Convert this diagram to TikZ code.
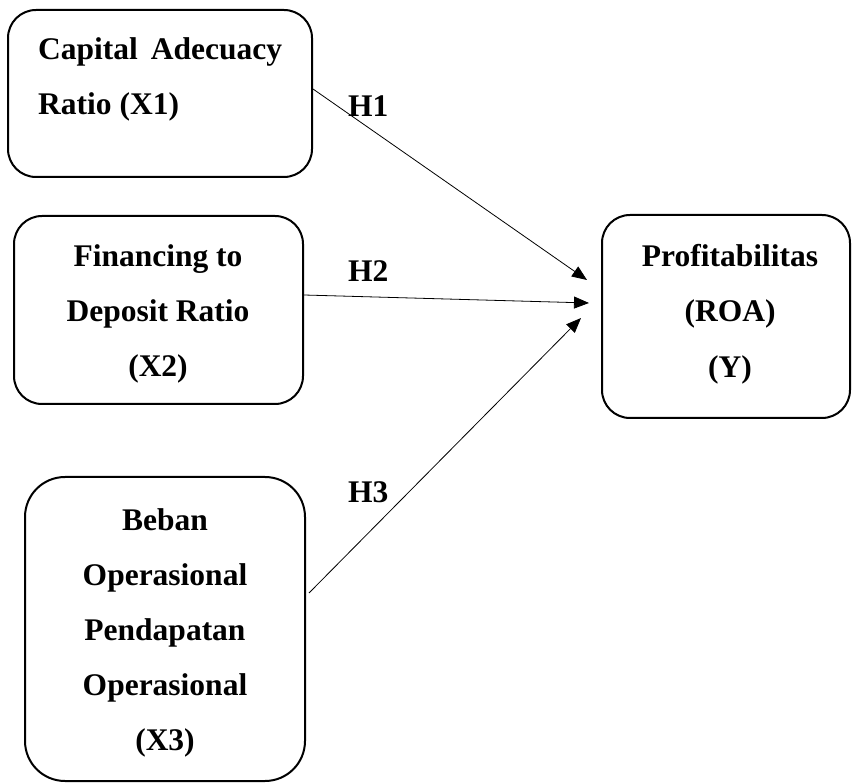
\documentclass[tikz,border=0pt]{standalone}
\usepackage{fontspec}
\setmainfont{Liberation Serif}
\usetikzlibrary{arrows.meta}
\begin{document}
\begin{tikzpicture}[x=1pt,y=-1pt,
  box/.style={draw=black,line width=2pt,rounded corners=#1,inner sep=0pt},
  box/.default=28pt,
  txt/.style={inner sep=0pt,anchor=base,font=\bfseries\fontsize{31.5}{55}\selectfont},
  txtl/.style={txt,anchor=base west},
  conn/.style={line width=0.8pt,-{Triangle[length=15pt,width=12pt]}}]
\useasboundingbox (0,0) rectangle (852,783);
% boxes
\node[box,minimum width=304pt,minimum height=167pt] (x1) at (160,93.5) {};
\node[box,minimum width=289pt,minimum height=188pt] (x2) at (158.5,310) {};
\node[box=40pt,minimum width=280pt,minimum height=304pt] (x3) at (165,629) {};
\node[box,minimum width=248pt,minimum height=203pt] (y) at (726,316.5) {};
% texts
\node[txtl] (a1) at (38,60) {\makebox[244pt][s]{Capital Adecuacy}};
\node[txtl] (a2) at (38,115) {Ratio (X1)};
\node[txt] (b1) at (158,267) {Financing to};
\node[txt] (b2) at (158,322) {Deposit Ratio};
\node[txt] (b3) at (158,377) {(X2)};
\node[txt] (c1) at (165,530) {Beban};
\node[txt] (c2) at (165,585) {Operasional};
\node[txt] (c3) at (165,640) {Pendapatan};
\node[txt] (c4) at (165,695) {Operasional};
\node[txt] (c5) at (165,750) {(X3)};
\node[txt] (d1) at (730,267) {Profitabilitas};
\node[txt] (d2) at (730,322) {(ROA)};
\node[txt] (d3) at (730,378) {(Y)};
% arrow tips
\coordinate (t1) at (587,280);
\coordinate (t2) at (589,303);
\coordinate (t3) at (581,318);
% connectors
\draw[conn] ([yshift=4.5pt]x1.east) -- (t1);
\draw[conn] ([yshift=15pt]x2.east) -- (t2);
\draw[conn] ([yshift=36pt,xshift=3pt]x3.east) -- (t3);
% labels
\node[txtl] (h1) at (348,117) {H1};
\node[txtl] (h2) at (348,282) {H2};
\node[txtl] (h3) at (348,503) {H3};
\end{tikzpicture}
\end{document}
